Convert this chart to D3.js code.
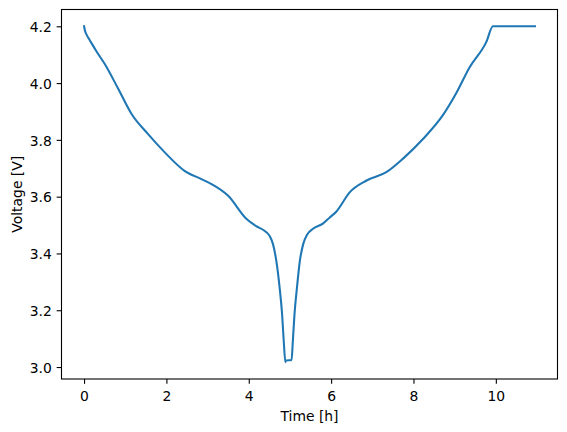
<!DOCTYPE html>
<html>
<head>
<meta charset="utf-8">
<script src="https://cdn.jsdelivr.net/npm/d3@7"></script>
<style>
  body { margin: 0; background: #fff; }
  svg { display: block; font-family: "DejaVu Sans", sans-serif; }
</style>
</head>
<body>
<svg id="chart1"></svg>
<script>
// time [h] and voltage [V]
var time = [0, 0.02, 0.07, 0.14, 0.3, 0.5, 0.83, 1.15, 1.55, 1.96, 2.44, 2.85, 3.17, 3.5,
  3.94, 4.17, 4.39, 4.51, 4.59, 4.67, 4.75, 4.81, 4.85, 4.89, 4.9, 5.04,
  5.07, 5.11, 5.17, 5.24, 5.32, 5.42, 5.56, 5.8, 5.96, 6.13, 6.45, 6.85, 7.34, 7.74, 8.23, 8.71,
  9.04, 9.36, 9.77, 9.93, 10.95];
var voltage = [4.2, 4.186, 4.168, 4.151, 4.112, 4.068, 3.98, 3.892, 3.821, 3.756, 3.691, 3.662, 3.638, 3.603,
  3.522, 3.497, 3.479, 3.461, 3.432, 3.373, 3.279, 3.185, 3.09, 3.017, 3.023, 3.025,
  3.09, 3.185, 3.279, 3.373, 3.432, 3.467, 3.487, 3.505, 3.526, 3.548, 3.615, 3.656, 3.686, 3.733, 3.803, 3.886,
  3.965, 4.055, 4.145, 4.2, 4.2];
var xTicks = [0, 2, 4, 6, 8, 10];
var yTicks = [3.0, 3.2, 3.4, 3.6, 3.8, 4.0, 4.2];

var data = time.map(function(t, i) { return {t: t, v: voltage[i]}; });

// axes box like matplotlib default (dpi 100, tight crop)
var margin = {top: 9.5, right: 9.5, bottom: 53, left: 61.5},
    width = 567 - margin.left - margin.right,
    height = 432 - margin.top - margin.bottom;

var svg = d3.select("#chart1")
    .attr("width", 567)
    .attr("height", 432)
  .append("g")
    .attr("transform", "translate(" + margin.left + "," + margin.top + ")");

// 5% padding on both axes
var xMin = d3.min(time), xMax = d3.max(time), xPad = (xMax - xMin) * 0.05;
var yMin = d3.min(voltage), yMax = d3.max(voltage), yPad = (yMax - yMin) * 0.05;

var x = d3.scaleLinear()
    .domain([xMin - xPad, xMax + xPad])
    .range([0, width]);
var y = d3.scaleLinear()
    .domain([yMin - yPad, yMax + yPad])
    .range([height, 0]);

var tickLen = 4.86, fs = 13.9;

// x axis
var xAxis = svg.append("g")
    .attr("transform", "translate(0," + height + ")")
    .call(d3.axisBottom(x).tickValues(xTicks).tickSize(tickLen).tickSizeOuter(0).tickPadding(4.86)
      .tickFormat(d3.format("d")));
xAxis.select(".domain").remove();
xAxis.selectAll(".tick line").attr("stroke", "#000").attr("stroke-width", 1.1);
xAxis.selectAll(".tick text")
    .attr("font-size", fs).attr("font-family", "DejaVu Sans").attr("fill", "#000")
    .attr("dy", null).attr("y", 21.5);

// y axis
var yAxis = svg.append("g")
    .call(d3.axisLeft(y).tickValues(yTicks).tickSize(tickLen).tickSizeOuter(0).tickPadding(4.86)
      .tickFormat(d3.format(".1f")));
yAxis.select(".domain").remove();
yAxis.selectAll(".tick line").attr("stroke", "#000").attr("stroke-width", 1.1);
yAxis.selectAll(".tick text")
    .attr("font-size", fs).attr("font-family", "DejaVu Sans").attr("fill", "#000")
    .attr("dy", "5.3");

// the curve
svg.append("path")
    .datum(data)
    .attr("fill", "none")
    .attr("stroke", "#1f77b4")
    .attr("stroke-width", 2.08)
    .attr("stroke-linejoin", "round")
    .attr("stroke-linecap", "square")
    .attr("d", d3.line()
      .x(function(d) { return x(d.t); })
      .y(function(d) { return y(d.v); })
      .curve(d3.curveMonotoneX));

// frame
svg.append("rect")
    .attr("width", width)
    .attr("height", height)
    .attr("fill", "none")
    .attr("stroke", "#000")
    .attr("stroke-width", 1.1);

// labels
svg.append("text")
    .attr("x", width / 2)
    .attr("y", height + 41.5)
    .attr("text-anchor", "middle")
    .attr("font-size", fs)
    .text("Time [h]");

svg.append("text")
    .attr("transform", "translate(" + (21.5 - margin.left) + "," + (height / 2) + ") rotate(-90)")
    .attr("text-anchor", "middle")
    .attr("font-size", fs)
    .text("Voltage [V]");
</script>
</body>
</html>
